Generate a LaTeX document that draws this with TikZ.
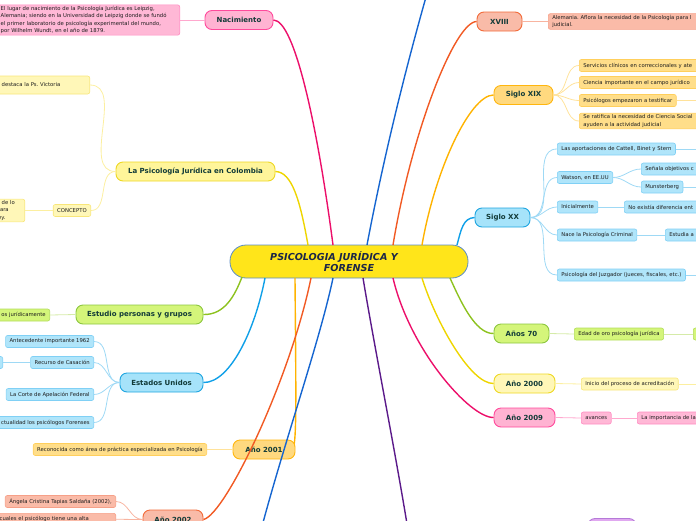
\documentclass[tikz,border=0pt]{standalone}
\usepackage{fontspec}
\setmainfont{DejaVu Sans}
\usetikzlibrary{calc}
\frenchspacing

% ink
\definecolor{inkdark}{HTML}{123B38}
\definecolor{inkleaf}{HTML}{1C1C1C}
\definecolor{centerfill}{HTML}{FFE51A}
\definecolor{centerdraw}{HTML}{5B8CC6}
\definecolor{centerink}{HTML}{1C2747}
% families: fill, border, line, leaf fill, leaf border, twig
\definecolor{pinkfill}{HTML}{FFB3D2}\definecolor{pinkdraw}{HTML}{FF4A9C}\definecolor{pinkline}{HTML}{EC0F6A}
\definecolor{pinklf}{HTML}{FFB8D6}\definecolor{pinkld}{HTML}{FF8CC2}\definecolor{pinktwig}{HTML}{FFA8CE}
\definecolor{salmfill}{HTML}{F9BBA8}\definecolor{salmdraw}{HTML}{F26B3A}\definecolor{salmline}{HTML}{F15A24}
\definecolor{salmlf}{HTML}{FABBA8}\definecolor{salmld}{HTML}{F6A088}\definecolor{salmtwig}{HTML}{F8B4A0}
\definecolor{ambfill}{HTML}{FFD97F}\definecolor{ambdraw}{HTML}{FFB60F}\definecolor{ambline}{HTML}{FFB300}
\definecolor{amblf}{HTML}{FFDE8A}\definecolor{ambld}{HTML}{FFCF5C}\definecolor{ambtwig}{HTML}{FFE29A}
\definecolor{cyanfill}{HTML}{A6E3FA}\definecolor{cyandraw}{HTML}{1FA5E0}\definecolor{cyanline}{HTML}{10A0E8}
\definecolor{cyanlf}{HTML}{B0E5FA}\definecolor{cyanld}{HTML}{80D0F5}\definecolor{cyantwig}{HTML}{9ED9F5}
\definecolor{limefill}{HTML}{D4F57A}\definecolor{limedraw}{HTML}{8CC63F}\definecolor{limeline}{HTML}{8DC21F}
\definecolor{limelf}{HTML}{D4F57A}\definecolor{limeld}{HTML}{B2DD5A}\definecolor{limetwig}{HTML}{D5EBA8}
\definecolor{lemfill}{HTML}{FFF59A}\definecolor{lemdraw}{HTML}{EED823}\definecolor{lemline}{HTML}{EED500}
\definecolor{lemlf}{HTML}{FFF7B8}\definecolor{lemld}{HTML}{F8E67A}\definecolor{lemtwig}{HTML}{FCEFA0}
\definecolor{lilfill}{HTML}{E0A8F0}\definecolor{lildraw}{HTML}{B57AD8}
\definecolor{blueline}{HTML}{1565D0}
\definecolor{purpline}{HTML}{5B1A8A}

\tikzset{
  topic/.style={draw, rounded corners=7pt, line width=0.9pt, minimum height=19pt, inner sep=2pt, text=inkdark, font=\fontsize{7}{8}\selectfont\bfseries},
  leaf/.style={draw, rounded corners=2pt, line width=0.6pt, minimum height=12pt, inner xsep=4pt, inner ysep=1.5pt, text=inkleaf, font=\fontsize{5.3}{7.3}\selectfont},
  branch/.style={line width=1.4pt},
  twig/.style={line width=0.8pt},
  pinktopic/.style={topic, fill=pinkfill, draw=pinkdraw},
  salmtopic/.style={topic, fill=salmfill, draw=salmdraw},
  ambtopic/.style={topic, fill=ambfill, draw=ambdraw},
  cyantopic/.style={topic, fill=cyanfill, draw=cyandraw},
  limetopic/.style={topic, fill=limefill, draw=limedraw},
  lemtopic/.style={topic, fill=lemfill, draw=lemdraw},
  pinkleaf/.style={leaf, fill=pinklf, draw=pinkld},
  salmleaf/.style={leaf, fill=salmlf, draw=salmld},
  ambleaf/.style={leaf, fill=amblf, draw=ambld},
  cyanleaf/.style={leaf, fill=cyanlf, draw=cyanld},
  limeleaf/.style={leaf, fill=limelf, draw=limeld},
  lemleaf/.style={leaf, fill=lemlf, draw=lemld},
}

\begin{document}
\begin{tikzpicture}[x=1pt,y=-1pt]
\useasboundingbox (0,0) rectangle (696,520);
\clip (0,0) rectangle (696,520);

% Ends running off the page
\coordinate (upOff) at (428,-10);
\coordinate (downOff) at (261,530);
\coordinate (purpOff) at (408,530);
\coordinate (sxixCOff) at (700,100.5);
\coordinate (sxxAOff) at (700,149);
\coordinate (sxxBbOff) at (700,187);
\coordinate (sxxEOff) at (700,275);
\coordinate (a2000Off) at (700,384);

% Central topic
\node[draw=centerdraw, fill=centerfill, line width=0.8pt, rounded corners=16pt,
      minimum width=238pt, minimum height=33pt, align=center, text=centerink,
      font=\fontsize{9.6}{11}\selectfont\bfseries\itshape] (main) at (349,261.5)
      {PSICOLOGIA JURÍDICA Y\hspace*{30pt}\\FORENSE};

% Branch topics, right side
\node[pinktopic, minimum width=68pt] (nac) at (239,20) {Nacimiento};
\node[salmtopic, minimum width=45pt] (xviii) at (499.5,21.5) {XVIII};
\node[ambtopic, minimum width=59pt] (sxix) at (523.5,95) {Siglo XIX};
\node[cyantopic, minimum width=55pt] (sxx) at (502.5,217.5) {Siglo XX};
\node[limetopic, minimum width=55pt] (a70) at (521.5,333.5) {Años 70};
\node[lemtopic, fill=lemlf, minimum width=61pt] (a2000) at (524.5,383.5) {Año 2000};
\node[pinktopic, minimum width=61pt] (a2009) at (524.5,417.5) {Año 2009};
\node[topic, fill=lilfill, draw=lildraw, minimum width=48pt] (lila) at (612,528) {};

% Branch topics, left side
\node[lemtopic, minimum width=159pt] (col) at (195.5,171.5) {La Psicología Jurídica en Colombia};
\node[limetopic, minimum width=127pt] (est) at (139.5,314.5) {Estudio personas y grupos};
\node[cyantopic, minimum width=83pt] (eeuu) at (161.5,382.5) {Estados Unidos};
\node[salmtopic, minimum width=60pt] (a2002) at (173,519.5) {Año 2002};

% Año 2001 line runs behind its node
\draw[branch, ambline] (292,449.5) .. controls (297,449) and (296,400) .. (295,278);
\node[ambtopic, minimum width=62pt] (a2001) at (264,449.5) {Año 2001};

% Leaves, Nacimiento and XVIII
\node[pinkleaf, anchor=east, text width=177pt, inner xsep=2pt, align=left] (nacA) at (180,20)
  {El lugar de nacimiento de la Psicología Jurídica es Leipzig,\\Alemania; siendo en la Universidad de Leipzig donde se fundó\\el primer laboratorio de psicología experimental del mundo,\\por Wilhelm Wundt, en el año de 1879.};
\node[salmleaf, anchor=west, text width=160pt, align=left] (xviiiA) at (548,21.5)
  {Alemania. Aflora la necesidad de la Psicología para l\\judicial.};

% Leaves, Siglo XIX
\node[ambleaf, anchor=west, text width=140pt, align=left] (sxixA) at (579,65.5) {Servicios clínicos en correccionales y ate};
\node[ambleaf, anchor=west, text width=130pt, align=left] (sxixB) at (579,82.5) {Ciencia importante en el campo jurídico};
\node[ambleaf, anchor=west] (sxixC) at (579,100.5) {Psicólogos empezaron a testificar};
\node[ambleaf, anchor=west, text width=140pt, align=left] (sxixD) at (579,121)
  {Se ratifica la necesidad de Ciencia Social\\ayuden a la actividad judicial};

% Leaves, Siglo XX
\node[cyanleaf, anchor=west] (sxxA) at (557,149) {Las aportaciones de Cattell, Binet y Stern};
\node[cyanleaf, anchor=west] (sxxB) at (557,177.5) {Watson, en EE.UU};
\node[cyanleaf, anchor=west, text width=60pt, align=left] (sxxBa) at (641,169) {Señala objetivos c};
\node[cyanleaf, anchor=west] (sxxBb) at (641,187) {Munsterberg};
\node[cyanleaf, anchor=west] (sxxC) at (557,207) {Inicialmente};
\node[cyanleaf, anchor=west, text width=85pt, align=left] (sxxCa) at (624,207) {No existía diferencia ent};
\node[cyanleaf, anchor=west] (sxxD) at (557,235) {Nace la Psicología Criminal};
\node[cyanleaf, anchor=west, text width=40pt, align=left] (sxxDa) at (665,235) {Estudia a};
\node[cyanleaf, anchor=west] (sxxE) at (557,275) {Psicología del Juzgador (jueces, fiscales, etc.)};

% Leaves, Años 70, 2000, 2009
\node[limeleaf, anchor=west] (a70A) at (574,334) {Edad de oro psicología jurídica};
\node[limeleaf, anchor=west, minimum width=20pt] (a70B) at (693,334) {};
\node[lemleaf, anchor=west] (a2000A) at (581,384) {Inicio del proceso de acreditación};
\node[pinkleaf, anchor=west] (a2009A) at (581,418) {avances};
\node[pinkleaf, anchor=west, text width=75pt, align=left] (a2009B) at (637,418) {La importancia de la};

% Leaves, Colombia
\node[lemleaf, anchor=east, text width=84pt, align=left, minimum height=18pt] (colA) at (90,85) {destaca la Ps. Victoria};
\node[lemleaf, anchor=east] (colB) at (91,210.5) {CONCEPTO};
\node[lemleaf, anchor=east, text width=24pt, align=left] (colBa) at (25,210.5) {o de lo\\para\\ley.};

% Leaves, Estudio and Estados Unidos
\node[limeleaf, anchor=east] (estA) at (50,315) {os jurídicamente};
\node[cyanleaf, anchor=east] (eeuuA) at (94,341.5) {Antecedente importante 1962};
\node[cyanleaf, anchor=east] (eeuuB) at (94,362.5) {Recurso de Casación};
\node[cyanleaf, anchor=east, minimum width=20pt] (eeuuBa) at (3,362.5) {};
\node[cyanleaf, anchor=east] (eeuuC) at (94,394.5) {La Corte de Apelación Federal};
\node[cyanleaf, anchor=east] (eeuuD) at (94,422.5) {ctualidad los psicólogos Forenses};

% Leaves, 2001 and 2002
\node[ambleaf, anchor=east] (a2001A) at (207,449.5) {Reconocida como área de práctica especializada en Psicología};
\node[salmleaf, anchor=east] (a2002A) at (116,501.5) {Ángela Cristina Tapias Saldaña (2002),};
\node[salmleaf, anchor=north east, text width=112pt, align=left] (a2002B) at (116,513) {cuales el psicólogo tiene una alta};

% Main branches
\draw[branch, lemline] (col.east) .. controls (292,172) and (300,200) .. (308,245);
\draw[branch, pinkline] (nac.east) .. controls (295,20) and (318,130) .. (333,245);
\draw[branch, blueline] (367,245) .. controls (385,150) and (408,60) .. (upOff);
\draw[branch, salmline] (xviii.west) .. controls (455,22) and (412,130) .. (393,245);
\draw[branch, ambline] (sxix.west) .. controls (470,95) and (435,170) .. (422,245);
\draw[branch, cyanline] (sxx.west) .. controls (463,218) and (461,230) .. (457,245);

\draw[branch, limeline] (est.east) .. controls (225,315) and (235,295) .. (242,277);
\draw[branch, cyanline] (eeuu.east) .. controls (230,383) and (255,330) .. (265,278);
\draw[branch, salmline] (a2002.east) .. controls (225,515) and (290,380) .. (311,278);
\draw[branch, blueline] (333,278) .. controls (320,340) and (285,440) .. (downOff);
\draw[branch, purpline] (363,278) .. controls (375,350) and (395,450) .. (purpOff);
\draw[branch, pinkline] (a2009.west) .. controls (470,418) and (410,350) .. (393,278);
\draw[branch, lemline] (a2000.west) .. controls (470,384) and (435,320) .. (422,278);
\draw[branch, limeline] (a70.west) .. controls (475,334) and (460,300) .. (450,278);

% Twigs, right side
\draw[twig, pinktwig] (nacA.east) -- (nac.west);
\draw[twig, salmtwig] (xviii.east) -- (xviiiA.west);
\foreach \leafname in {sxixA,sxixB,sxixC,sxixD}
  \draw[twig, ambtwig] (sxix.east) to[out=0,in=180] (\leafname.west);
\draw[twig, ambtwig] (sxixC.east) -- (sxixCOff);
\foreach \leafname in {sxxA,sxxB,sxxC,sxxD,sxxE}
  \draw[twig, cyantwig] (sxx.east) to[out=0,in=180] (\leafname.west);
\foreach \leafname in {sxxBa,sxxBb}
  \draw[twig, cyantwig] (sxxB.east) to[out=0,in=180] (\leafname.west);
\draw[twig, cyantwig] (sxxC.east) -- (sxxCa.west);
\draw[twig, cyantwig] (sxxD.east) -- (sxxDa.west);
\draw[twig, cyantwig] (sxxA.east) -- (sxxAOff);
\draw[twig, cyantwig] (sxxBb.east) -- (sxxBbOff);
\draw[twig, cyantwig] (sxxE.east) -- (sxxEOff);
\draw[twig, limetwig] (a70.east) -- (a70A.west);
\draw[twig, limetwig] (a70A.east) -- (a70B.west);
\draw[twig, lemtwig] (a2000.east) -- (a2000A.west);
\draw[twig, lemtwig] (a2000A.east) -- (a2000Off);
\draw[twig, pinktwig] (a2009.east) -- (a2009A.west);
\draw[twig, pinktwig] (a2009A.east) -- (a2009B.west);

% Twigs, left side
\foreach \leafname in {colA,colB}
  \draw[twig, lemtwig] (col.west) to[out=180,in=0] (\leafname.east);
\draw[twig, lemtwig] (colB.west) -- (colBa.east);
\draw[twig, limetwig] (est.west) -- (estA.east);
\foreach \leafname in {eeuuA,eeuuB,eeuuC,eeuuD}
  \draw[twig, cyantwig] (eeuu.west) to[out=180,in=0] (\leafname.east);
\draw[twig, cyantwig] (eeuuB.west) -- (eeuuBa.east);
\draw[twig, ambtwig] (a2001.west) -- (a2001A.east);
\foreach \leafname in {a2002A,a2002B}
  \draw[twig, salmtwig] (a2002.west) to[out=180,in=0] (\leafname.east);

\end{tikzpicture}
\end{document}
